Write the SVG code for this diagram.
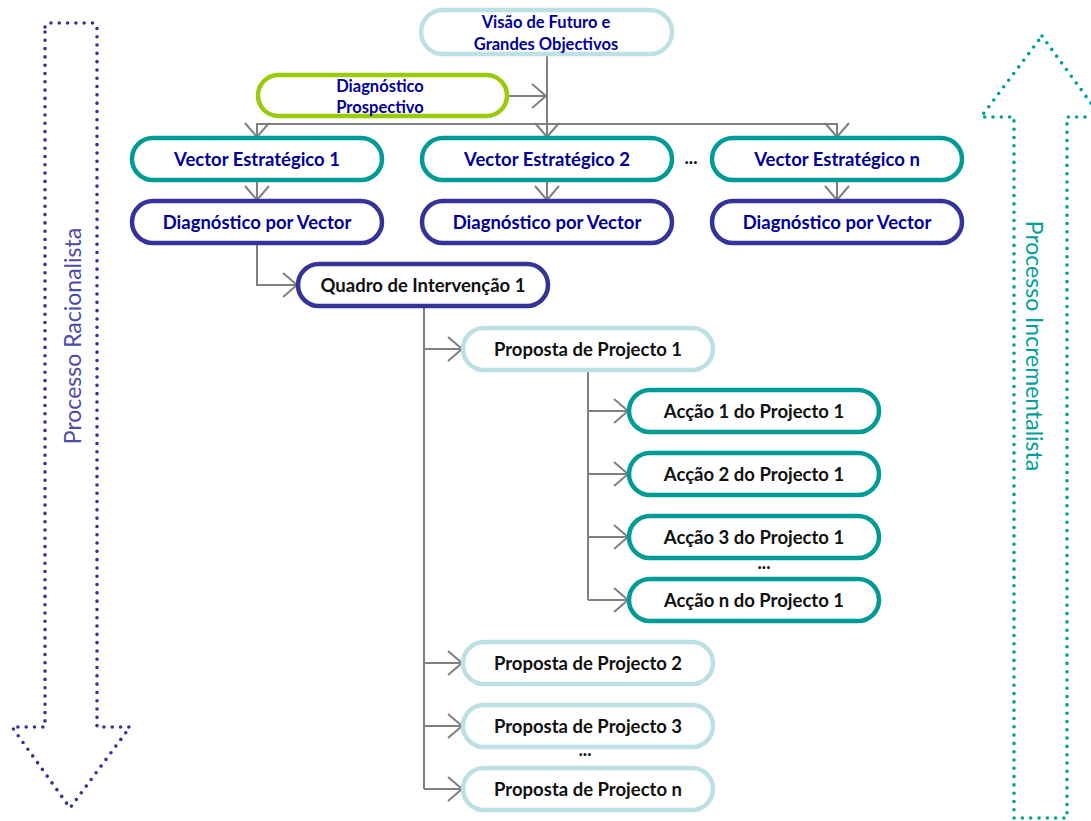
<svg xmlns="http://www.w3.org/2000/svg" width="1091" height="821" viewBox="0 0 1091 821">
<style>
.box{fill:#fff;stroke-width:4.5}
.lb{stroke:#BDE0E4}
.gr{stroke:#9ACA0A}
.tl{stroke:#009B97}
.db{stroke:#333399}
text{font-family:Lato,"Liberation Sans",sans-serif;text-anchor:middle;font-weight:bold}
.nv{fill:#000099}
.bk{fill:#111}
.t17{font-size:18.5px}
.t15{font-size:16.5px}
.con{fill:none;stroke:#808080;stroke-width:2}
.dot{fill:none;stroke-width:3.6;stroke-linecap:round;stroke-linejoin:round;stroke-dasharray:0 8.3}
</style>
<defs>
<marker id="ah" viewBox="0 0 16 26" refX="15" refY="13" markerWidth="16" markerHeight="26" orient="auto" markerUnits="userSpaceOnUse">
<path d="M1,1 L15,13 L1,25" fill="none" stroke="#808080" stroke-width="2"/>
</marker>
</defs>
<rect width="1091" height="821" fill="#fff"/>

<g id="arrow-racionalista">
<path class="dot" stroke="#333399" d="M45,27 Q45,23 49,23 L93,23 Q97,23 97,27 L97,727 L130,727 L70,808 L12,727 L45,727 Z"/>
<text transform="translate(81,336) rotate(-90)" style="font-size:23px;font-weight:normal" fill="#4B4BA8">Processo Racionalista</text>
</g>
<g id="arrow-incrementalista">
<path class="dot" stroke="#00A09A" d="M1042,36 L1101,117 L1067,117 L1067,818 L1014,818 L1014,117 L981,117 Z"/>
<text transform="translate(1026,346) rotate(90)" style="font-size:23px;font-weight:normal" fill="#00A09A">Processo Incrementalista</text>
</g>

<g id="connectors">
<path class="con" d="M547,54 V137" marker-end="url(#ah)"/>
<path class="con" d="M507,96 H546" marker-end="url(#ah)"/>
<path class="con" d="M257,137 V124 H837 V137" />
<path class="con" d="M257,124 V137" marker-end="url(#ah)"/>
<path class="con" d="M837,124 V137" marker-end="url(#ah)"/>
<path class="con" d="M257,180 V200" marker-end="url(#ah)"/>
<path class="con" d="M547,180 V200" marker-end="url(#ah)"/>
<path class="con" d="M837,180 V200" marker-end="url(#ah)"/>
<path class="con" d="M257,243 V285 H297" marker-end="url(#ah)"/>
<path class="con" d="M424,306 V789"/>
<path class="con" d="M424,349 H462" marker-end="url(#ah)"/>
<path class="con" d="M424,663 H462" marker-end="url(#ah)"/>
<path class="con" d="M424,726 H462" marker-end="url(#ah)"/>
<path class="con" d="M424,789 H462" marker-end="url(#ah)"/>
<path class="con" d="M588,370 V600"/>
<path class="con" d="M588,411 H628" marker-end="url(#ah)"/>
<path class="con" d="M588,474 H628" marker-end="url(#ah)"/>
<path class="con" d="M588,537 H628" marker-end="url(#ah)"/>
<path class="con" d="M588,600 H628" marker-end="url(#ah)"/>
</g>

<g id="visao"><rect class="box lb" x="421" y="10" width="251" height="44" rx="22"/>
<text class="nv t15" x="546" y="28">Visão de Futuro e</text><text class="nv t15" x="546" y="50">Grandes Objectivos</text></g>
<g id="diag-prospectivo"><rect class="box gr" x="258" y="75" width="249" height="41" rx="20.5"/>
<text class="nv t15" x="380" y="92">Diagnóstico</text><text class="nv t15" x="380" y="113">Prospectivo</text></g>

<g id="vector1"><rect class="box tl" x="132" y="138" width="250" height="42" rx="21"/><text class="nv t17" x="257" y="165.5">Vector Estratégico 1</text></g>
<g id="vector2"><rect class="box tl" x="422" y="138" width="250" height="42" rx="21"/><text class="nv t17" x="547" y="165.5">Vector Estratégico 2</text></g>
<g id="vectorn"><rect class="box tl" x="712" y="138" width="250" height="42" rx="21"/><text class="nv t17" x="837" y="165.5">Vector Estratégico n</text></g>
<text class="bk t17" x="691" y="164">...</text>

<g id="diag1"><rect class="box db" x="132" y="201" width="250" height="42" rx="21"/><text class="nv t17" x="257" y="228.5">Diagnóstico por Vector</text></g>
<g id="diag2"><rect class="box db" x="422" y="201" width="250" height="42" rx="21"/><text class="nv t17" x="547" y="228.5">Diagnóstico por Vector</text></g>
<g id="diagn"><rect class="box db" x="712" y="201" width="250" height="42" rx="21"/><text class="nv t17" x="837" y="228.5">Diagnóstico por Vector</text></g>

<g id="quadro1"><rect class="box db" x="298" y="264" width="250" height="42" rx="21"/><text class="bk t17" x="423" y="291.5">Quadro de Intervenção 1</text></g>

<g id="proposta1"><rect class="box lb" x="463" y="328" width="250" height="42" rx="21"/><text class="bk t17" x="588" y="355.5">Proposta de Projecto 1</text></g>
<g id="accao1"><rect class="box tl" x="629" y="390" width="250" height="42" rx="21"/><text class="bk t17" x="754" y="417.5">Acção 1 do Projecto 1</text></g>
<g id="accao2"><rect class="box tl" x="629" y="453" width="250" height="42" rx="21"/><text class="bk t17" x="754" y="480.5">Acção 2 do Projecto 1</text></g>
<g id="accao3"><rect class="box tl" x="629" y="516" width="250" height="42" rx="21"/><text class="bk t17" x="754" y="543.5">Acção 3 do Projecto 1</text></g>
<text class="bk t17" x="764" y="569">...</text>
<g id="accaon"><rect class="box tl" x="629" y="579" width="250" height="42" rx="21"/><text class="bk t17" x="754" y="606.5">Acção n do Projecto 1</text></g>

<g id="proposta2"><rect class="box lb" x="463" y="642" width="250" height="42" rx="21"/><text class="bk t17" x="588" y="669.5">Proposta de Projecto 2</text></g>
<g id="proposta3"><rect class="box lb" x="463" y="705" width="250" height="42" rx="21"/><text class="bk t17" x="588" y="732.5">Proposta de Projecto 3</text></g>
<text class="bk t17" x="585" y="756">...</text>
<g id="propostan"><rect class="box lb" x="463" y="768" width="250" height="42" rx="21"/><text class="bk t17" x="588" y="795.5">Proposta de Projecto n</text></g>
</svg>
